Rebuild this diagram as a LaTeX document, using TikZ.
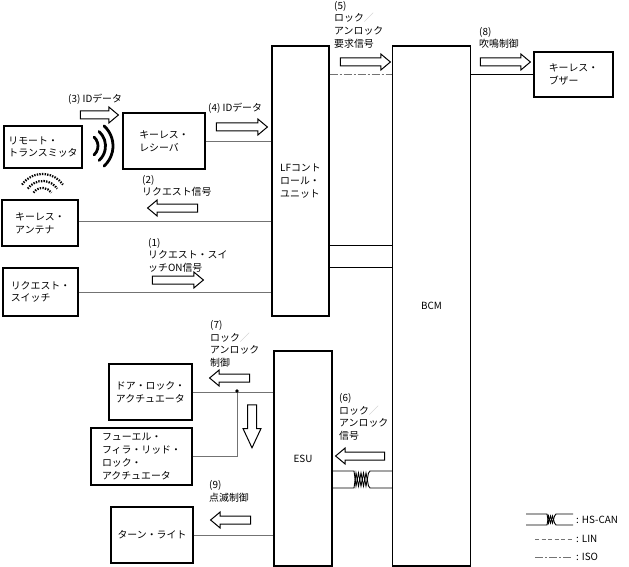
\documentclass[tikz,border=0pt]{standalone}
\usepackage{fontspec}
\setmainfont{Noto Sans CJK JP}
\usepackage{tikz}
\usetikzlibrary{shapes.arrows,calc}
\definecolor{wiregray}{RGB}{115,115,115}
\definecolor{slashgray}{RGB}{190,190,190}
\tikzstyle{unitbox} = [rectangle, draw=black, line width=1.1pt, align=left, inner sep=0pt, font=\fontsize{9.9}{12.7}\selectfont]
\tikzstyle{wire} = [line width=0.8pt, color=wiregray]
\tikzstyle{sigarrow} = [single arrow, draw=black, line width=1pt, fill=white, inner xsep=0pt, inner ysep=3.5pt, minimum width=0pt, single arrow head extend=4pt, single arrow tip angle=80, minimum height=50pt]
\tikzstyle{sigtext} = [anchor=north west, align=left, inner sep=0pt, font=\fontsize{9.9}{12.7}\selectfont]
\tikzstyle{wave} = [line width=2.8pt, line cap=round]
\tikzstyle{dotwave} = [line width=2.2pt, dash pattern=on 1.4pt off 1.2pt]
\newcommand{\grslash}{{\color{slashgray}／}}

\begin{document}
\begin{tikzpicture}[x=1pt, y=-1pt]
\path[fill=white] (0,0) rectangle (629,567);
\useasboundingbox (0,0) rectangle (629,567);

% Units
\node[unitbox, minimum width=78pt, minimum height=42pt] (tx) at (43,147) {リモート・\\トランスミッタ};
\node[unitbox, minimum width=82pt, minimum height=56pt] (rx) at (164,141) {キーレス・\\レシーバ};
\node[unitbox, minimum width=76pt, minimum height=46pt] (ant) at (40,223) {キーレス・\\アンテナ};
\node[unitbox, minimum width=75pt, minimum height=48pt] (sw) at (40.5,292) {リクエスト・\\スイッチ};
\node[unitbox, minimum width=57pt, minimum height=270pt] (lf) at (300.5,181) {LFコント\\ロール・\\ユニット};
\node[unitbox, minimum width=78pt, minimum height=520pt] (bcm) at (431.5,306) {BCM};
\node[unitbox, minimum width=79pt, minimum height=45pt] (buz) at (573.5,74.5) {キーレス・\\ブザー};
\node[unitbox, minimum width=58pt, minimum height=215pt] (esu) at (303,458.5) {ESU};
\node[unitbox, minimum width=83pt, minimum height=56pt] (door) at (150.5,392) {ドア・ロック・\\アクチュエータ};
\node[unitbox, minimum width=101pt, minimum height=57pt] (fuel) at (141.5,456.5) {フューエル・\\フィラ・リッド・\\ロック・\\アクチュエータ};
\node[unitbox, minimum width=82pt, minimum height=56pt] (turn) at (152,535) {ターン・ライト};

% Wires
\coordinate (iso) at (0,74);
\coordinate (lfa) at (0,245);
\coordinate (lfb) at (0,267);
\coordinate (cana) at (0,471);
\coordinate (canb) at (0,488);
\coordinate (jct) at (237,391);
\draw[wire] (rx.east) -- (rx.east -| lf.west);
\draw[wire] ($(ant.east)+(0,-2)$) -- ($(ant.east -| lf.west)+(0,-2)$);
\draw[wire] (sw.east) -- (sw.east -| lf.west);
\draw[wire, dash pattern=on 8pt off 2pt on 2pt off 2pt] (lf.east |- iso) -- (bcm.west |- iso);
\draw[wire, color=black] (lf.east |- lfa) -- (bcm.west |- lfa);
\draw[wire, color=black] (lf.east |- lfb) -- (bcm.west |- lfb);
\draw[wire, color=black] (bcm.east |- buz.west) -- (buz.west);
\draw[wire] (door.east) -- (door.east -| esu.west);
\draw[wire] (jct) |- (fuel.east);
\fill (jct) circle[radius=1.8];
\draw[wire] (turn.east) -- (turn.east -| esu.west);

% HS-CAN
\draw[line width=0.9pt] (esu.east |- cana) -- (354,471) -- (356,486) -- (358.5,473) -- (361,486) -- (363.5,473) -- (366,486) -- (368.5,473) -- (370,471) -- (bcm.west |- cana);
\draw[line width=0.9pt] (esu.east |- canb) -- (354,488) -- (356,473) -- (358.5,486) -- (361,473) -- (363.5,486) -- (366,473) -- (368.5,486) -- (370,488) -- (bcm.west |- canb);

% Radio
\foreach \r in {12,19.5,27} {
    \draw[wave] ($(86,146)+(-48:\r)$) arc[start angle=-48, end angle=48, radius=\r];
}
\foreach \r in {11,18,25} {
    \draw[dotwave] ($(42.5,199)+(215:\r)$) arc[start angle=215, end angle=325, radius=\r];
}

% Signal arrows
\node[sigarrow, minimum height=38pt] (a3) at (97,115) {};
\node[sigarrow, minimum height=51pt] (a4) at (239.5,127) {};
\node[sigarrow] (a5) at (363,62) {};
\node[sigarrow] (a8) at (503,62) {};
\node[sigarrow, shape border rotate=180] (a2) at (175,208) {};
\node[sigarrow, minimum height=51pt] (a1) at (175.5,280) {};
\node[sigarrow, minimum height=40pt, shape border rotate=180] (a7) at (232,378) {};
\node[sigarrow, minimum height=43pt, inner xsep=4pt, inner ysep=0pt, single arrow head extend=4.5pt, single arrow tip angle=50, shape border rotate=270] (ad) at (252,421.5) {};
\node[sigarrow, minimum height=49pt, shape border rotate=180] (a6) at (362.5,456) {};
\node[sigarrow, minimum height=40pt, shape border rotate=180] (a9) at (233,520) {};

% Labels
\node[sigtext] (l3) at (68,94) {(3) IDデータ};
\node[sigtext] (l4) at (208,103) {(4) IDデータ};
\node[sigtext] (l5) at (334,1) {(5)\\ロック\grslash\\アンロック\\要求信号};
\node[sigtext] (l8) at (479,27) {(8)\\吹鳴制御};
\node[sigtext] (l2) at (142,175) {(2)\\リクエスト信号};
\node[sigtext] (l1) at (148,238) {(1)\\リクエスト・スイ\\ッチON信号};
\node[sigtext] (l7) at (210,320) {(7)\\ロック\grslash\\アンロック\\制御};
\node[sigtext] (l6) at (339,393) {(6)\\ロック\grslash\\アンロック\\信号};
\node[sigtext] (l9) at (209,480) {(9)\\点滅制御};

% Legend
\draw[line width=0.9pt] (526,514) -- (547,514) -- (548.5,523) -- (550.5,516) -- (552.5,523) -- (554.5,516) -- (556,514) -- (573,514);
\draw[line width=0.9pt] (526,525) -- (547,525) -- (548.5,516) -- (550.5,523) -- (552.5,516) -- (554.5,523) -- (556,525) -- (573,525);
\draw[wire, dash pattern=on 4pt off 2.5pt] (535,539) -- (572,539);
\draw[wire, dash pattern=on 8pt off 2pt on 2pt off 2pt] (535,557) -- (572,557);
\node[sigtext, anchor=west] (kcan) at (576,520) {: HS-CAN};
\node[sigtext, anchor=west] (klin) at (576,539) {: LIN};
\node[sigtext, anchor=west] (kiso) at (576,557) {: ISO};
\end{tikzpicture}
\end{document}
